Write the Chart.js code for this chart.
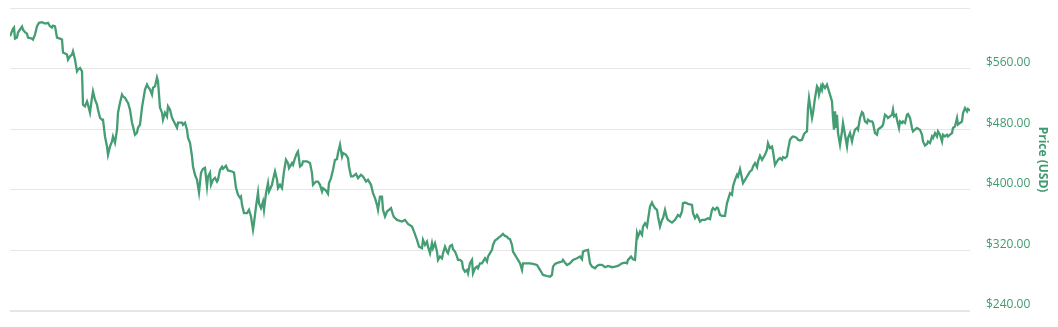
<!DOCTYPE html>
<html>
<head>
<meta charset="utf-8">
<script src="https://cdn.jsdelivr.net/npm/chart.js@4.4.0/dist/chart.umd.min.js"></script>
<style>
  html, body { margin: 0; padding: 0; background: #fff; }
  #wrap { width: 1058px; height: 327px; }
</style>
</head>
<body>
<div id="wrap"><canvas id="price-chart"></canvas></div>
<script>
const days = [0,3,4,5,7,8,12,13,15,17,18,22,23,25,27,29,32,35,38,40,42,43,45,47,50,52,53,57,58,60,62,63,65,67,68,70,72,73,75,77,78,80,82,83,85,87,88,90,92,93,95,97,98,100,102,103,105,107,108,110,112,113,115,117,118,120,122,123,125,127,128,130,132,133,135,137,138,140,142,143,145,147,148,150,152,153,155,157,158,160,162,163,167,168,172,173,175,177,178,180,182,183,185,187,189,191,193,195,197,198,200,201,203,205,207,208,210,212,213,216,218,222,224,226,228,230,231,232,234,237,239,241,243,244,246,248,249,251,253,254,256,258,259,262,263,265,267,268,270,272,274,276,278,279,282,283,285,287,288,290,292,293,297,300,302,303,306,308,310,312,313,316,318,319,321,323,325,327,328,330,332,333,336,338,339,341,343,346,348,351,353,356,358,361,363,365,367,368,370,372,373,375,377,379,381,383,384,387,392,395,398,402,404,407,409,412,413,415,417,418,420,422,423,425,427,428,430,432,433,435,437,438,440,442,443,445,447,448,450,452,453,455,457,458,460,462,463,465,467,468,470,472,473,475,477,478,480,482,483,485,487,488,490,492,493,495,497,498,500,502,503,505,507,508,510,512,513,517,520,523,527,528,530,532,533,537,540,542,543,545,548,552,553,555,557,560,563,567,570,572,573,575,578,580,582,585,587,589,592,595,598,602,605,608,612,615,617,618,621,623,625,627,628,630,632,633,635,637,638,640,642,643,645,647,648,650,652,653,655,657,658,662,665,667,668,670,672,673,675,678,682,683,685,687,688,690,692,695,698,700,702,703,705,707,708,710,712,715,717,718,720,722,723,725,727,728,730,732,733,735,737,738,740,742,743,745,747,748,750,752,753,755,757,758,760,762,763,765,767,768,770,772,773,775,777,778,780,782,783,785,787,788,790,792,794,796,797,798,799,801,802,803,805,807,808,809,811,812,813,815,817,818,820,822,823,824,825,826,827,828,830,832,833,835,837,838,840,842,843,845,847,848,850,852,853,855,857,858,860,862,863,865,867,868,870,872,873,875,877,878,880,882,883,884,886,887,889,890,892,893,895,897,898,900,902,903,905,907,908,910,912,913,915,917,918,920,922,923,925,927,928,930,932,933,935,937,938,940,942,943,945,947,948,950,952,953,955,957,958,960];

const prices = [602.7,612.5,614.2,599.6,601.0,607.6,615.5,611.5,608.0,606.2,601.0,599.6,598.3,604.9,615.9,620.4,621.2,619.5,620.4,615.9,614.2,616.8,615.9,601.0,599.6,598.3,581.1,578.5,571.9,576.2,578.5,582.8,571.9,556.4,558.6,560.9,556.4,512.4,510.1,516.7,512.4,501.8,521.6,529.9,519.0,512.4,505.7,495.2,492.5,492.5,470.4,457.2,446.2,457.2,463.8,470.4,462.1,479.3,501.8,515.0,525.6,523.3,521.6,516.7,515.0,505.7,488.6,483.7,472.7,475.3,482.0,485.9,508.4,516.7,532.2,538.8,536.2,532.2,525.6,534.8,536.6,548.1,543.2,508.4,501.8,492.5,501.8,496.9,510.1,505.7,495.2,492.5,482.0,488.6,488.6,485.9,488.6,479.3,468.7,462.1,444.0,430.8,419.8,413.2,396.4,422.5,427.7,429.1,404.3,417.6,422.5,406.6,413.2,415.8,410.9,413.2,426.4,430.4,427.7,431.7,425.5,424.2,422.8,402.6,393.4,389.4,391.1,380.1,369.2,369.2,373.5,364.7,347.1,355.9,377.9,396.4,382.4,375.8,384.5,373.5,395.6,408.8,397.7,406.6,413.2,424.2,413.2,402.2,406.6,402.2,424.2,439.6,435.3,428.7,435.3,433.0,441.9,448.5,450.6,430.8,433.0,437.4,437.4,435.3,422.0,406.6,410.9,410.9,406.6,397.7,402.2,399.0,394.7,408.8,415.4,426.4,439.6,440.6,448.5,459.5,444.0,448.5,446.2,441.9,430.8,417.6,417.6,421.1,415.4,419.8,417.6,410.9,413.2,406.6,395.6,389.0,380.1,373.5,391.1,391.1,373.5,364.7,371.3,373.5,375.8,366.9,363.9,360.3,358.1,360.3,355.0,351.5,344.8,333.8,325.0,322.9,333.8,327.2,331.6,325.0,316.3,329.5,322.9,329.5,318.4,307.4,311.8,309.6,316.3,325.0,318.4,316.3,325.9,327.2,321.6,318.4,311.8,307.4,307.4,305.2,296.4,291.9,294.2,289.8,303.0,307.4,289.8,296.4,298.6,296.4,303.0,303.0,305.2,309.6,305.2,311.8,316.3,320.6,327.2,332.9,334.8,336.1,338.2,340.5,341.8,339.1,338.2,336.1,334.8,327.2,318.4,314.0,309.6,307.4,303.0,294.2,303.0,303.0,303.0,302.1,300.8,298.6,294.2,289.8,287.6,286.2,285.3,287.6,298.6,302.1,303.8,305.2,307.4,303.8,300.8,303.0,307.4,309.6,311.8,308.3,318.4,319.7,320.6,303.0,298.6,296.4,299.5,300.8,300.8,297.8,299.5,297.8,298.6,299.5,303.0,303.8,303.0,307.4,311.8,308.3,307.4,342.7,338.2,344.8,340.5,351.5,355.9,351.5,360.3,377.9,383.2,380.1,375.8,373.5,364.7,351.5,360.3,362.5,373.5,362.5,360.3,356.7,360.3,364.7,366.9,364.7,371.3,382.4,383.2,381.5,380.1,369.2,362.5,366.9,364.7,358.1,360.3,360.3,362.5,361.2,373.5,375.8,373.5,376.6,375.8,366.9,365.6,365.6,382.4,386.7,395.6,393.4,404.3,413.2,419.8,417.6,427.3,415.4,408.8,413.2,417.6,419.8,424.2,426.4,430.8,435.3,430.0,437.4,444.9,439.6,441.9,446.2,452.9,461.7,455.1,457.2,450.6,433.0,437.4,439.6,441.9,439.6,443.2,441.9,444.0,452.9,466.1,469.6,470.4,469.6,468.3,466.1,465.2,466.1,473.6,476.3,477.1,508.0,521.2,503.5,494.8,501.4,521.2,536.6,534.4,525.6,536.6,532.2,538.8,534.4,538.8,534.4,525.6,516.7,494.8,479.3,503.5,481.6,499.1,474.9,459.5,477.1,488.2,472.7,457.2,468.3,474.9,463.8,470.4,479.3,481.6,479.3,494.8,502.7,501.4,490.3,488.2,492.5,490.3,490.3,488.2,474.9,472.7,479.3,481.6,483.7,485.9,499.1,496.9,494.8,496.9,499.1,505.7,496.9,499.1,492.5,481.6,490.3,488.2,490.3,488.2,499.1,500.1,494.8,481.6,477.1,479.3,481.6,480.6,479.3,472.7,463.8,458.5,460.4,463.8,461.7,470.4,468.3,474.9,470.4,477.1,472.7,463.8,472.7,470.4,472.7,470.4,472.7,474.9,481.6,483.7,494.8,486.0,488.2,490.3,501.4,508.0,503.5,506.7,504.5];

const yTicks = [240, 320, 400, 480, 560, 640];
const lineColor = '#449d73';
const labelColor = '#3f9a6e';

new Chart(document.getElementById('price-chart'), {
  type: 'line',
  data: {
    datasets: [{
      label: 'Price (USD)',
      data: days.map((d, i) => ({ x: d, y: prices[i] })),
      borderColor: lineColor,
      borderWidth: 2.3,
      pointRadius: 0,
      tension: 0,
      fill: false
    }]
  },
  options: {
    responsive: true,
    maintainAspectRatio: false,
    animation: false,
    layout: { padding: { left: 10, right: 0, top: 8, bottom: 16 } },
    plugins: { legend: { display: false }, tooltip: { enabled: false } },
    scales: {
      x: {
        type: 'linear',
        display: false,
        min: 0,
        max: 960
      },
      y: {
        position: 'right',
        min: 240,
        max: 640,
        afterBuildTicks: axis => { axis.ticks = yTicks.map(v => ({ value: v })); },
        afterFit: axis => {
          axis.width = 88;
          axis.paddingTop = 0;
          axis.paddingBottom = 0;
        },
        border: { display: false },
        grid: {
          color: '#e6e6e6',
          lineWidth: ctx => (ctx.tick && ctx.tick.value === 240 ? 2 : 1),
          drawTicks: false
        },
        ticks: {
          padding: 16,
          labelOffset: -6,
          color: labelColor,
          font: { family: 'Open Sans', size: 12 },
          callback: v => (v === 640 ? '' : '$' + v.toFixed(2))
        },
        title: {
          display: true,
          text: 'Price (USD)',
          color: labelColor,
          font: { family: 'Open Sans', size: 12, weight: 'bold' },
          padding: 8
        }
      }
    }
  }
});
</script>
</body>
</html>
